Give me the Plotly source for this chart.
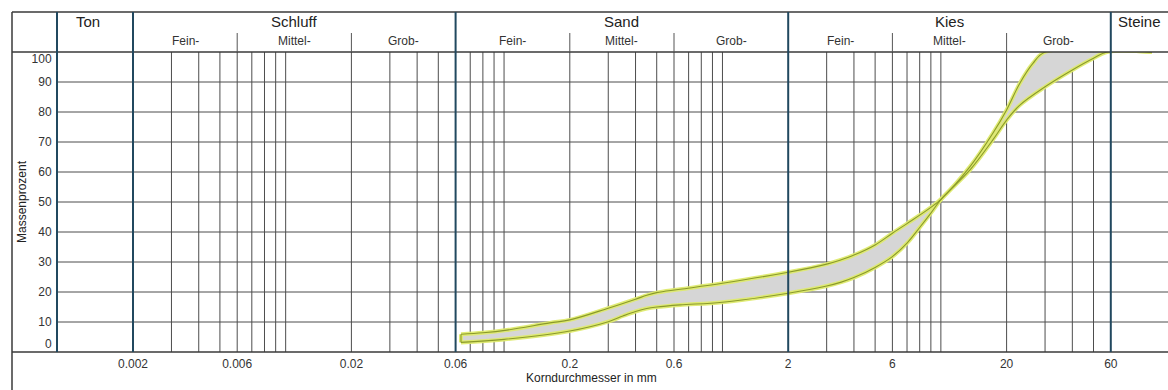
import numpy as np
import plotly.graph_objects as go

# ---------------- data ----------------
upper_x = [0.0635, 0.08, 0.103, 0.162, 0.2, 0.3, 0.4, 0.45, 0.5, 0.64, 1.0, 2.0, 3.0, 3.45, 4.0,
           5.0, 6.0, 7.0, 9.0, 10.0, 13.6, 17.3, 20.0, 23.0, 26.4, 30.0, 92.6]
upper_y = [5.9, 6.4, 7.3, 9.7, 10.7, 14.6, 17.6, 18.9, 19.8, 20.9, 22.9, 26.6, 29.3, 30.6, 32.3,
           35.7, 39.6, 42.8, 48.2, 50.9, 61.8, 72.9, 80.7, 89.6, 96.2, 100, 100]
lower_x = [0.0635, 0.1, 0.2, 0.3, 0.35, 0.4, 0.45, 0.5, 0.64, 1.0, 2.0, 3.0, 3.5, 4.0, 5.0, 6.0,
           7.0, 8.0, 9.0, 10.0, 13.6, 17.3, 20.0, 23.0, 30.0, 40.0, 50.0, 57.6, 92.6]
lower_y = [3.2, 4.2, 7.0, 10.1, 12.0, 13.5, 14.5, 15.0, 15.7, 16.6, 19.6, 22.0, 23.3, 24.8, 28.2,
           31.8, 36.3, 41.5, 46.3, 50.8, 60.7, 70.7, 77.3, 82.3, 88.4, 94.0, 97.9, 100, 100]

tick_vals = [0.002, 0.006, 0.02, 0.06, 0.2, 0.6, 2, 6, 20, 60]
tick_text = ["0.002", "0.006", "0.02", "0.06", "0.2", "0.6", "2", "6", "20", "60"]
y_grid = [10, 20, 30, 40, 50, 60, 70, 80, 90]
y_tick_pos = [2.7, 10, 20, 30, 40, 50, 60, 70, 80, 90, 97.6]
y_tick_text = ["0", "10", "20", "30", "40", "50", "60", "70", "80", "90", "100"]
x_grid = [0.003, 0.004, 0.005, 0.006, 0.007, 0.008, 0.009, 0.01, 0.02, 0.03, 0.04, 0.05,
          0.07, 0.08, 0.09, 0.1, 0.2, 0.3, 0.4, 0.5, 0.6, 0.7, 0.8, 0.9, 1,
          3, 4, 5, 6, 7, 8, 9, 10, 20, 30, 40, 50]
main_bounds = [0.002, 0.06, 2, 60]
sub_bounds = [0.006, 0.02, 0.2, 0.6, 6, 20]
main_labels = ["Ton", "Schluff", "Sand", "Kies", "Steine"]
main_label_x = [0.00125, 0.01095, 0.3464, 10.95, 81.6]
sub_labels = ["Fein-", "Mittel-", "Grob-"] * 3
sub_label_x = [0.003464, 0.01095, 0.03464, 0.1095, 0.3464, 1.095, 3.464, 10.95, 34.64]

# ---------------- geometry ----------------
W, H = 1168, 390
ML, MR, MT, MB = 57, 0, 52, 38
PW, PH = W - ML - MR, H - MT - MB
px2 = lambda p: (p - ML) / PW          # pixel x -> paper
py2 = lambda p: (MT + PH - p) / PH     # pixel y -> paper

FONT = "Liberation Sans, Arial, sans-serif"
GRID = "#4d4d4d"
BLUE = "#21485f"
FRAME = "#3a3a3a"
TXT = "#222222"

fig = go.Figure()

glow = "rgba(222,234,110,0.95)"
core = "#8a9a2a"
SM = 1.0
fig.add_trace(go.Scatter(x=lower_x, y=lower_y, mode="lines",
                         line=dict(color=glow, width=4, shape="spline", smoothing=SM),
                         hoverinfo="skip", showlegend=False))
fig.add_trace(go.Scatter(x=upper_x, y=upper_y, mode="lines", fill="tonexty",
                         fillcolor="#d6d6d6",
                         line=dict(color=glow, width=4, shape="spline", smoothing=SM),
                         hoverinfo="skip", showlegend=False))
fig.add_trace(go.Scatter(x=[lower_x[0], upper_x[0]], y=[lower_y[0], upper_y[0]], mode="lines",
                         line=dict(color=glow, width=4), hoverinfo="skip", showlegend=False))
for xs, ys, shp in [(lower_x, lower_y, "spline"), (upper_x, upper_y, "spline"),
                    ([lower_x[0], upper_x[0]], [lower_y[0], upper_y[0]], "linear")]:
    fig.add_trace(go.Scatter(x=xs, y=ys, mode="lines",
                             line=dict(color=core, width=1.1, shape=shp, smoothing=SM),
                             hoverinfo="skip", showlegend=False))

shapes = []
for v in x_grid:
    shapes.append(dict(type="line", xref="x", yref="paper", x0=v, x1=v, y0=0, y1=1,
                       line=dict(color=GRID, width=1), layer="below"))
for v in y_grid:
    shapes.append(dict(type="line", xref="paper", yref="y", x0=0, x1=1, y0=v, y1=v,
                       line=dict(color=GRID, width=1), layer="below"))
top_hdr = py2(12)
left_frame = px2(12)
shapes += [
    dict(type="line", xref="paper", yref="paper", x0=left_frame, x1=1, y0=top_hdr, y1=top_hdr,
         line=dict(color=FRAME, width=1.5)),
    dict(type="line", xref="paper", yref="paper", x0=left_frame, x1=1, y0=1, y1=1,
         line=dict(color=FRAME, width=1.5)),
    dict(type="line", xref="paper", yref="paper", x0=left_frame, x1=1, y0=0, y1=0,
         line=dict(color=FRAME, width=1.5)),
    dict(type="line", xref="paper", yref="paper", x0=left_frame, x1=left_frame,
         y0=py2(H), y1=top_hdr, line=dict(color=FRAME, width=1.5)),
    dict(type="line", xref="paper", yref="paper", x0=0, x1=0, y0=0, y1=top_hdr,
         line=dict(color=BLUE, width=2)),
]
for v in main_bounds:
    shapes.append(dict(type="line", xref="x", yref="paper", x0=v, x1=v, y0=0, y1=top_hdr,
                       line=dict(color=BLUE, width=2)))
for v in sub_bounds:
    shapes.append(dict(type="line", xref="x", yref="paper", x0=v, x1=v, y0=1, y1=py2(33),
                       line=dict(color="#555555", width=1)))

ann = []
for t, v in zip(main_labels, main_label_x):
    ann.append(dict(text=t, x=np.log10(v), y=py2(21), xref="x", yref="paper",
                    showarrow=False, font=dict(size=15, color=TXT, family=FONT),
                    xanchor="center", yanchor="middle"))
for t, v in zip(sub_labels, sub_label_x):
    ann.append(dict(text=t, x=np.log10(v), y=py2(41), xref="x", yref="paper",
                    showarrow=False, font=dict(size=12, color="#333333", family=FONT),
                    xanchor="center", yanchor="middle"))
ann.append(dict(text="Massenprozent", x=px2(22), y=0.5, xref="paper", yref="paper",
                textangle=-90, showarrow=False, font=dict(size=12, color=TXT, family=FONT),
                xanchor="center", yanchor="middle"))
ann.append(dict(text="Korndurchmesser in mm", x=px2(591), y=py2(378), xref="paper",
                yref="paper", showarrow=False, font=dict(size=12, color=TXT, family=FONT),
                xanchor="center", yanchor="middle"))

fig.update_layout(
    width=W, height=H,
    margin=dict(l=ML, r=MR, t=MT, b=MB, pad=0),
    paper_bgcolor="white", plot_bgcolor="white",
    shapes=shapes, annotations=ann, showlegend=False,
    xaxis=dict(type="log", range=[np.log10(0.002) - 76 / 218.4, np.log10(0.002) + 1035 / 218.4],
               tickvals=tick_vals, ticktext=tick_text, showgrid=False, zeroline=False,
               showline=False, ticks="outside", ticklen=1, tickcolor="rgba(0,0,0,0)",
               tickfont=dict(size=12, color="#333333", family=FONT), fixedrange=True,
               automargin=False),
    yaxis=dict(range=[0, 100], tickvals=y_tick_pos, ticktext=y_tick_text, showgrid=False,
               zeroline=False, showline=False, ticks="outside", ticklen=2,
               tickcolor="rgba(0,0,0,0)",
               tickfont=dict(size=12, color="#333333", family=FONT), fixedrange=True,
               automargin=False),
)

fig.write_html("out.html", config={"displayModeBar": False},
               post_script="document.body.style.margin='0px';document.body.style.overflow='hidden';")
